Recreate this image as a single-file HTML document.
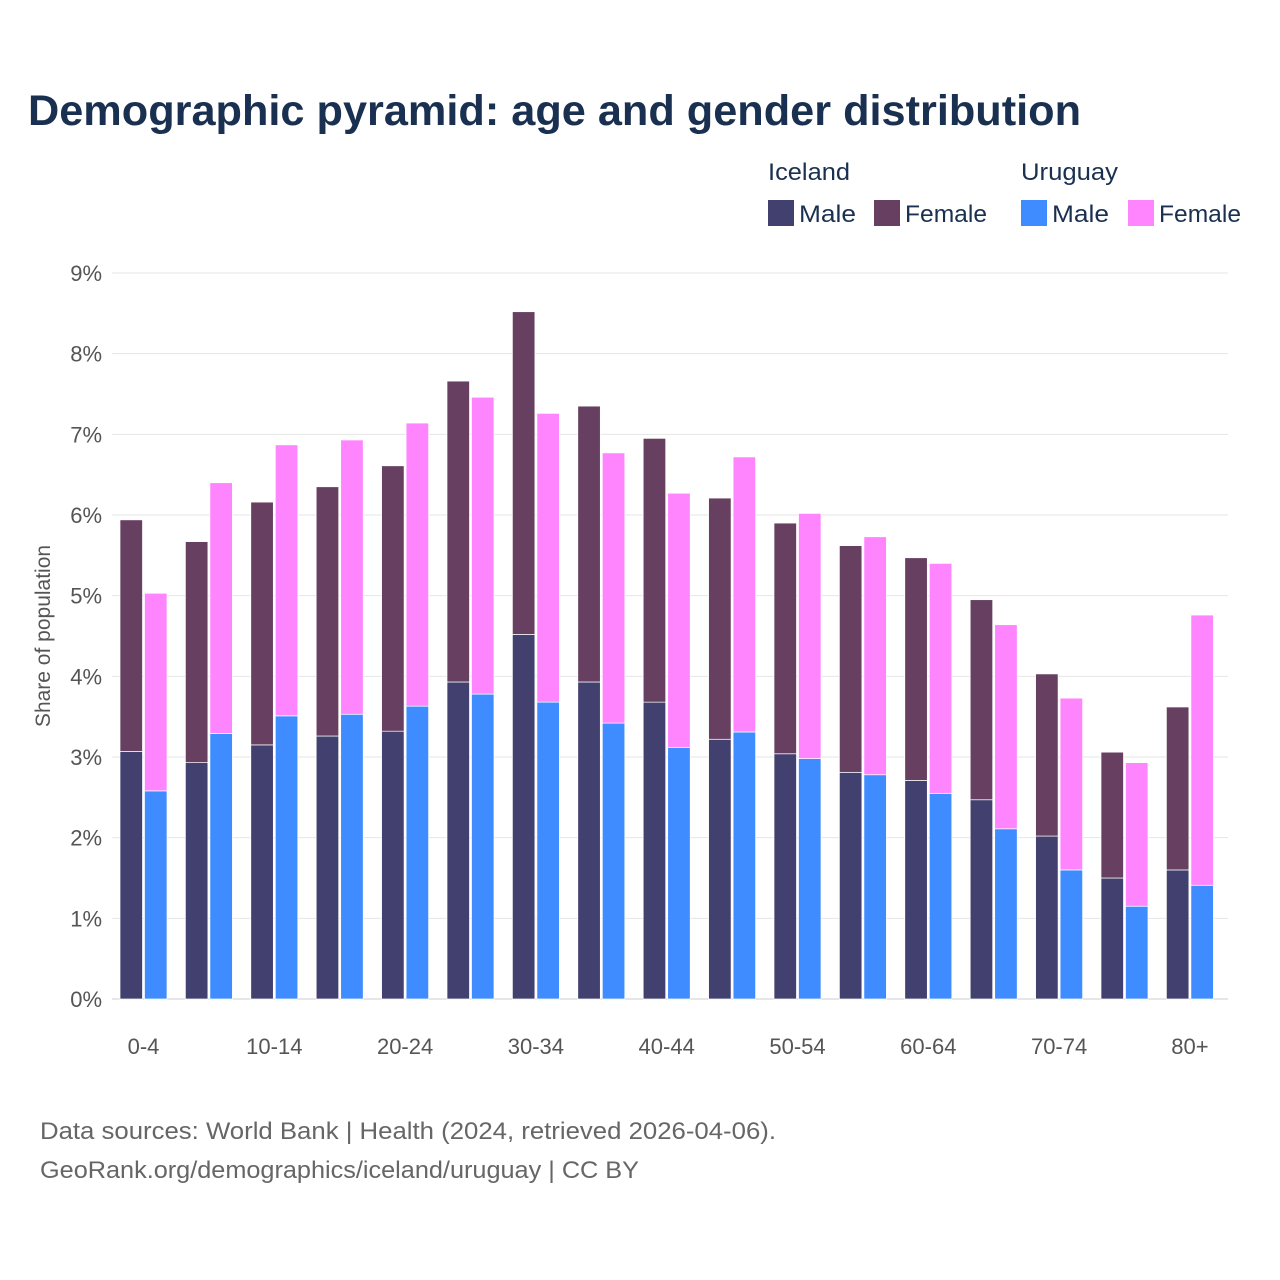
<!DOCTYPE html>
<html><head><meta charset="utf-8"><style>
body{margin:0;background:#fff;}
svg{display:block;font-family:"Liberation Sans",sans-serif;}
</style></head><body>
<svg id="c" width="1280" height="1280" viewBox="0 0 1280 1280">
<rect width="1280" height="1280" fill="#fff"/>
<text x="28" y="125" font-size="43" font-weight="bold" fill="#1a3050" textLength="1053" lengthAdjust="spacingAndGlyphs">Demographic pyramid: age and gender distribution</text>
<g font-size="24" fill="#1a3050">
<text x="768" y="180" textLength="82" lengthAdjust="spacingAndGlyphs">Iceland</text>
<text x="1021" y="180" textLength="97" lengthAdjust="spacingAndGlyphs">Uruguay</text>
<rect x="768" y="200" width="26" height="26" fill="#41406f"/>
<text x="799" y="222" textLength="57" lengthAdjust="spacingAndGlyphs">Male</text>
<rect x="874" y="200" width="26" height="26" fill="#673f60"/>
<text x="905" y="222" textLength="82" lengthAdjust="spacingAndGlyphs">Female</text>
<rect x="1021" y="200" width="26" height="26" fill="#3e8cff"/>
<text x="1052" y="222" textLength="57" lengthAdjust="spacingAndGlyphs">Male</text>
<rect x="1128" y="200" width="26" height="26" fill="#ff85ff"/>
<text x="1159" y="222" textLength="82" lengthAdjust="spacingAndGlyphs">Female</text>
</g>
<text transform="translate(50,636) rotate(-90)" text-anchor="middle" font-size="21" fill="#555">Share of population</text>
<g id="grid"></g><g id="bars"></g><g id="xl"></g>
<text x="40" y="1139" font-size="24" fill="#666" textLength="736" lengthAdjust="spacingAndGlyphs">Data sources: World Bank | Health (2024, retrieved 2026-04-06).</text>
<text x="40" y="1178" font-size="24" fill="#666" textLength="599" lengthAdjust="spacingAndGlyphs">GeoRank.org/demographics/iceland/uruguay | CC BY</text>
</svg>
<script>
const categories=["0-4","5-9","10-14","15-19","20-24","25-29","30-34","35-39","40-44","45-49","50-54","55-59","60-64","65-69","70-74","75-79","80+"];
const icelandMale=[3.07,2.93,3.15,3.26,3.32,3.93,4.52,3.93,3.68,3.22,3.04,2.81,2.71,2.47,2.02,1.50,1.60];
const icelandFemale=[2.87,2.74,3.01,3.09,3.29,3.73,4.00,3.42,3.27,2.99,2.86,2.81,2.76,2.48,2.01,1.56,2.02];
const uruguayMale=[2.58,3.29,3.51,3.53,3.63,3.78,3.68,3.42,3.12,3.31,2.98,2.78,2.55,2.11,1.60,1.15,1.41];
const uruguayFemale=[2.45,3.11,3.36,3.40,3.51,3.68,3.58,3.35,3.15,3.41,3.04,2.95,2.85,2.53,2.13,1.78,3.35];
const yTicks=[0,1,2,3,4,5,6,7,8,9];
const NS="http://www.w3.org/2000/svg";
const y0=999,y9=273;
function y(v){return y0-(y0-y9)*v/9;}
function gx(i){return 143.5+i*65.4;}
const grid=document.getElementById('grid');
yTicks.forEach(t=>{
 const l=document.createElementNS(NS,'line');
 l.setAttribute('x1',112);l.setAttribute('x2',1228);l.setAttribute('y1',y(t));l.setAttribute('y2',y(t));
 l.setAttribute('stroke',t===0?'#ccc':'#e6e6e6');
 
 
 grid.appendChild(l);
 const tx=document.createElementNS(NS,'text');
 tx.setAttribute('x',102);tx.setAttribute('y',y(t)+8);tx.setAttribute('text-anchor','end');
 tx.setAttribute('font-size','22');tx.setAttribute('fill','#555');tx.textContent=t+'%';
 
 
 grid.appendChild(tx);
});
const bars=document.getElementById('bars');
function rect(x,v0,v1,c,n){
 const r=document.createElementNS(NS,'rect');
 r.setAttribute('x',x);r.setAttribute('width',22.5);
 r.setAttribute('y',y(v1));r.setAttribute('height',y(v0)-y(v1));
 r.setAttribute('fill',c);r.setAttribute('stroke','#fff');r.setAttribute('stroke-width','0.7');
 
 
 bars.appendChild(r);
}
const xl=document.getElementById('xl');
categories.forEach((c,i)=>{
 const cx=gx(i);
 rect(cx-23.5,0,icelandMale[i],'#41406f','bar-iceland-male');
 rect(cx-23.5,icelandMale[i],icelandMale[i]+icelandFemale[i],'#673f60','bar-iceland-female');
 rect(cx+1,0,uruguayMale[i],'#3e8cff','bar-uruguay-male');
 rect(cx+1,uruguayMale[i],uruguayMale[i]+uruguayFemale[i],'#ff85ff','bar-uruguay-female');
 if(i%2===0){
  const t=document.createElementNS(NS,'text');
  t.setAttribute('x',cx);t.setAttribute('y',1054);t.setAttribute('text-anchor','middle');
  t.setAttribute('font-size','22');t.setAttribute('fill','#555');t.textContent=c;
  
  
  xl.appendChild(t);
 }
});
</script>
</body></html>
